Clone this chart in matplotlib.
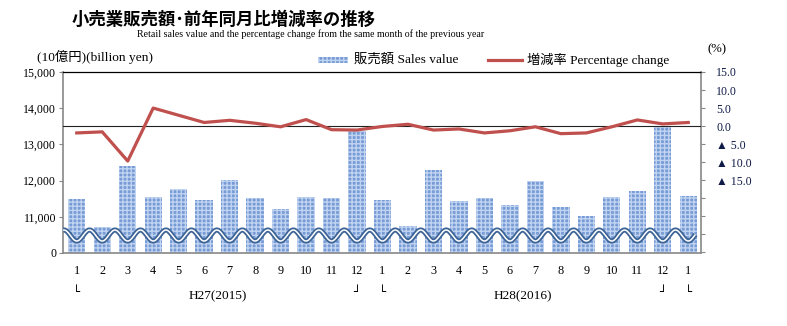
import matplotlib
matplotlib.use("Agg")
import matplotlib.pyplot as plt
import numpy as np
from matplotlib.patches import Rectangle
from matplotlib.lines import Line2D

# ---- data ----
months = ['1','2','3','4','5','6','7','8','9','10','11','12',
          '1','2','3','4','5','6','7','8','9','10','11','12','1']
sales = [11490, 10720, 12400, 11550, 11770, 11460, 12020, 11520, 11215, 11560, 11510, 13365,
         11465, 10745, 12280, 11436, 11515, 11326, 11990, 11271, 11022, 11547, 11713, 13480, 11575]
pct = [-1.9, -1.6, -9.7, 5.0, 3.0, 1.0, 1.6, 0.8, -0.2, 1.8, -1.0, -1.1,
       -0.1, 0.5, -1.1, -0.8, -1.9, -1.3, -0.2, -2.1, -1.9, -0.2, 1.7, 0.6, 1.0]
left_ticks = [10000, 11000, 12000, 13000, 14000, 15000]
left_labels = ['0', '11,000', '12,000', '13,000', '14,000', '15,000']
right_ticks = [-35, -30, -25, -20, -15, -10, -5, 0, 5, 10, 15]
right_labels = ['', '', '', '', '▲ 15.0', '▲ 10.0', '▲ 5.0', '0.0', '5.0', '10.0', '15.0']
year_labels = ['H27(2015)', 'H28(2016)']

SERIF = ['Liberation Serif', 'DejaVu Sans']
MIX = ['Liberation Serif', 'Noto Sans CJK JP']

W, H = 787, 326
fig = plt.figure(figsize=(W/100, H/100), dpi=100)
ax = fig.add_axes([63/W, 1-253/H, (701-63)/W, (253-72)/H])
x = np.arange(len(months))

bar_col = '#779bd5'
hatch_col = '#c0d3f0'
ax.bar(x, sales, width=0.68, bottom=0, color=bar_col, edgecolor=hatch_col,
       hatch='++++', linewidth=0, zorder=2)
ax.set_ylim(10000, 15000)
ax.set_xlim(-0.54, 24.5)
ax.set_yticks(left_ticks)
ax.set_yticklabels(left_labels, fontfamily=SERIF, fontsize=8.6)
ax.set_xticks(x)
ax.set_xticklabels(months, fontfamily=SERIF, fontsize=8.8)
ax.tick_params(axis='x', length=0, pad=9)
ax.tick_params(axis='y', length=3, color='#888888', pad=2)
for s in ['left', 'bottom', 'right']:
    ax.spines[s].set_color('#888888')
    ax.spines[s].set_linewidth(1.2)
ax.spines['top'].set_color('black')
ax.spines['top'].set_linewidth(0.9)

# break wave (double line)
xw = np.linspace(-0.54, 24.28, 800)
yw = 10483 - 152*np.cos(2*np.pi*xw)
ax.plot(xw, yw, color='#3d6496', lw=3.7, zorder=4, solid_capstyle='butt')
ax.plot(xw, yw, color='white', lw=1.1, zorder=5, solid_capstyle='butt')

ax2 = ax.twinx()
ax2.set_ylim(-35.2, 15)
ax2.set_yticks(right_ticks)
ax2.set_yticklabels(right_labels, fontfamily=SERIF, fontsize=8.6, color='#101c48')
ax2.tick_params(axis='y', length=3, color='#888888', pad=8)
ax2.axhline(0, color='#222222', lw=0.8, zorder=1)
ax2.plot(x, pct, color='#c0504d', lw=2.3, zorder=6)
for s in ax2.spines.values():
    s.set_visible(False)
ax.set_zorder(1); ax2.set_zorder(2)
ax2.patch.set_visible(False)

# titles
fig.text(224/W, 1-20/H, '小売業販売額･前年同月比増減率の推移', ha='center', va='center',
         fontsize=12.5, fontweight='bold', family=['Noto Sans CJK JP', 'DejaVu Sans'])
fig.text(311/W, 1-34/H, 'Retail sales value and the percentage change from the same month of the previous year',
         ha='center', va='center', fontsize=7.15, family=SERIF)
fig.text(37/W, 1-57/H, '(10億円)(billion yen)', ha='left', va='center', fontsize=9.6, family=MIX)
fig.text(708/W, 1-49/H, '(%)', ha='left', va='center', fontsize=9.2, family=SERIF)

# legend
fig.patches.append(Rectangle((318/W, 1-63/H), 30/W, 6/H, transform=fig.transFigure,
                             facecolor=bar_col, edgecolor=hatch_col, hatch='++++', lw=0))
fig.text(354/W, 1-60/H, '販売額 Sales value', ha='left', va='center', fontsize=9.6, family=MIX)
fig.lines.append(Line2D([488/W, 522/W], [1-60/H, 1-60/H], transform=fig.transFigure,
                        color='#c0504d', lw=2.3))
fig.text(527/W, 1-60/H, '増減率 Percentage change', ha='left', va='center', fontsize=9.5, family=MIX)

# year brackets
tr = ax.get_xaxis_transform()
for xi, ch in [(0, '└'), (11, '┘'), (12, '└'), (23, '┘'), (24, '└')]:
    ax.text(xi, -40/181, ch, transform=tr, ha='center', va='center', fontsize=8.5,
            family=['DejaVu Sans'], clip_on=False)
ax.text(5.55, -43/181, year_labels[0], transform=tr, ha='center', va='center', fontsize=9.5,
        family=SERIF, clip_on=False)
ax.text(17.5, -43/181, year_labels[1], transform=tr, ha='center', va='center', fontsize=9.5,
        family=SERIF, clip_on=False)

fig.savefig('out.png', dpi=100)
